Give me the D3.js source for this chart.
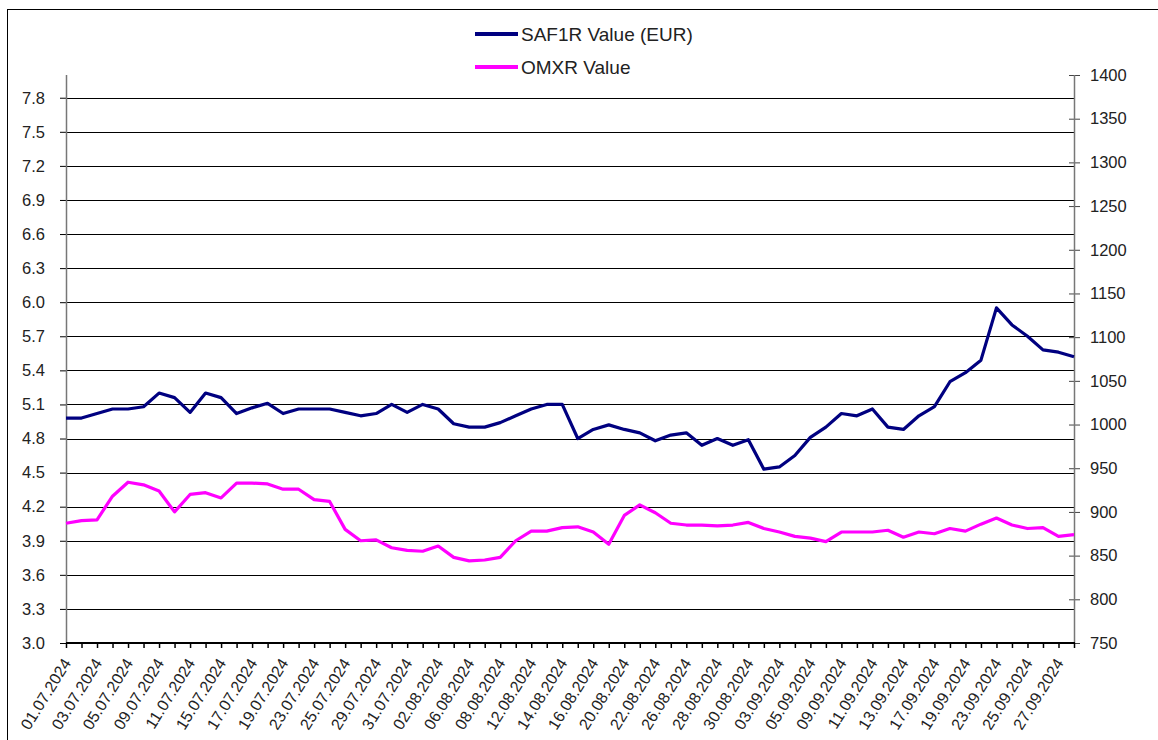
<!DOCTYPE html>
<html>
<head>
<meta charset="utf-8">
<script src="https://cdn.jsdelivr.net/npm/d3@7"></script>
<style>
  body { margin: 0; background: #fff; }
  text { font-family: "Liberation Sans", Arial, sans-serif; fill: #222; }
</style>
</head>
<body>
<div id="chart"></div>
<script>
// trading days, 01.07.2024 - 30.09.2024
const dates = [
  "01.07.2024","02.07.2024","03.07.2024","04.07.2024","05.07.2024","08.07.2024","09.07.2024","10.07.2024",
  "11.07.2024","12.07.2024","15.07.2024","16.07.2024","17.07.2024","18.07.2024","19.07.2024","22.07.2024",
  "23.07.2024","24.07.2024","25.07.2024","26.07.2024","29.07.2024","30.07.2024","31.07.2024","01.08.2024",
  "02.08.2024","05.08.2024","06.08.2024","07.08.2024","08.08.2024","09.08.2024","12.08.2024","13.08.2024",
  "14.08.2024","15.08.2024","16.08.2024","19.08.2024","20.08.2024","21.08.2024","22.08.2024","23.08.2024",
  "26.08.2024","27.08.2024","28.08.2024","29.08.2024","30.08.2024","02.09.2024","03.09.2024","04.09.2024",
  "05.09.2024","06.09.2024","09.09.2024","10.09.2024","11.09.2024","12.09.2024","13.09.2024","16.09.2024",
  "17.09.2024","18.09.2024","19.09.2024","20.09.2024","23.09.2024","24.09.2024","25.09.2024","26.09.2024",
  "27.09.2024","30.09.2024"
];

// SAF1R close, EUR (left axis)
const saf1r = [
  4.98, 4.98, 5.02, 5.06, 5.06, 5.08, 5.20, 5.16, 5.03, 5.20,
  5.16, 5.02, 5.07, 5.11, 5.02, 5.06, 5.06, 5.06, 5.03, 5.00,
  5.02, 5.10, 5.03, 5.10, 5.06, 4.93, 4.90, 4.90, 4.94, 5.00,
  5.06, 5.10, 5.10, 4.80, 4.88, 4.92, 4.88, 4.85, 4.78, 4.83,
  4.85, 4.74, 4.80, 4.74, 4.79, 4.53, 4.55, 4.65, 4.81, 4.90,
  5.02, 5.00, 5.06, 4.90, 4.88, 5.00, 5.08, 5.30, 5.38, 5.49,
  5.95, 5.80, 5.70, 5.58, 5.56, 5.52
];

// OMXR index (right axis)
const omxr = [
  887, 890, 891, 918, 934, 931, 924, 900, 920, 922,
  916, 933, 933, 932, 926, 926, 914, 912, 880, 867,
  868, 859, 856, 855, 861, 848, 844, 845, 848, 867,
  878, 878, 882, 883, 877, 863, 896, 908, 899, 887,
  885, 885, 884, 885, 888, 881, 877, 872, 870, 866,
  877, 877, 877, 879, 871, 877, 875, 881, 878, 886,
  893, 885, 881, 882, 872, 874
];

const leftTicks = d3.range(0, 17).map(i => 3.0 + i * 0.3);
const rightTicks = d3.range(750, 1401, 50);

const series = [
  { name: "SAF1R Value (EUR)", values: saf1r, color: "#000080", axis: "left" },
  { name: "OMXR Value", values: omxr, color: "#ff00ff", axis: "right" }
];

const W = 1158, H = 740;
const plot = { left: 66, right: 1074, top: 75, bottom: 643 };

const svg = d3.select("#chart").append("svg")
  .attr("width", W)
  .attr("height", H);

// outer frame (right and bottom edges fall outside the picture)
svg.append("rect")
  .attr("x", 7.5).attr("y", 9.5)
  .attr("width", 1160).attr("height", 745)
  .attr("fill", "none")
  .attr("stroke", "#000")
  .attr("stroke-width", 1);

const x = d3.scalePoint()
  .domain(dates)
  .range([plot.left, plot.right]);

const yL = d3.scaleLinear().domain([3, 8]).range([plot.bottom, plot.top]);
const yR = d3.scaleLinear().domain([750, 1400]).range([plot.bottom, plot.top]);

// gridlines
svg.append("g")
  .selectAll("line")
  .data(leftTicks.slice(1))
  .join("line")
  .attr("x1", plot.left).attr("x2", plot.right)
  .attr("y1", d => Math.round(yL(d)) + 0.5)
  .attr("y2", d => Math.round(yL(d)) + 0.5)
  .attr("stroke", "#000")
  .attr("stroke-width", 1);

// left axis
const leftAxis = svg.append("g")
  .attr("transform", `translate(${plot.left},0)`)
  .call(d3.axisLeft(yL).tickValues(leftTicks).tickFormat(d3.format(".1f")).tickSize(6).tickPadding(15));
leftAxis.select(".domain").remove();
leftAxis.selectAll(".tick line").attr("stroke", "#000");
leftAxis.selectAll("text").attr("font-size", 16.5).attr("fill", "#222");
svg.append("line")
  .attr("x1", plot.left + 0.5).attr("x2", plot.left + 0.5)
  .attr("y1", plot.top).attr("y2", plot.bottom)
  .attr("stroke", "#777").attr("stroke-width", 1.5);

// right axis
const rightAxis = svg.append("g")
  .attr("transform", `translate(${plot.right},0)`)
  .call(d3.axisRight(yR).tickValues(rightTicks).tickFormat(d3.format("d")).tickSize(6).tickPadding(10));
rightAxis.select(".domain").remove();
rightAxis.selectAll(".tick line").attr("x1", -5).attr("stroke", "#444");
rightAxis.selectAll("text").attr("font-size", 16.5).attr("fill", "#222");
svg.append("line")
  .attr("x1", plot.right + 0.5).attr("x2", plot.right + 0.5)
  .attr("y1", plot.top).attr("y2", plot.bottom)
  .attr("stroke", "#777").attr("stroke-width", 1.5);

// bottom axis
const bottomAxis = svg.append("g")
  .attr("transform", `translate(0,${plot.bottom})`)
  .call(d3.axisBottom(x).tickSize(5).tickFormat(""));
bottomAxis.select(".domain").remove();
bottomAxis.selectAll(".tick line").attr("stroke", "#000").attr("stroke-width", 1.5);
svg.append("line")
  .attr("x1", plot.left).attr("x2", plot.right + 1)
  .attr("y1", plot.bottom).attr("y2", plot.bottom)
  .attr("stroke", "#000").attr("stroke-width", 2);

// every second date is labelled
svg.append("g")
  .selectAll("text")
  .data(dates.filter((d, i) => i % 2 === 0))
  .join("text")
  .attr("transform", d => `translate(${x(d) + 1},${plot.bottom + 17}) rotate(-58)`)
  .attr("text-anchor", "end")
  .attr("dy", "0.35em")
  .attr("font-size", 16)
  .text(d => d);

// lines
const lineFor = s => d3.line()
  .x((v, i) => x(dates[i]))
  .y(v => (s.axis === "left" ? yL : yR)(v));

svg.append("g")
  .selectAll("path")
  .data(series.slice().reverse())
  .join("path")
  .attr("d", s => lineFor(s)(s.values))
  .attr("fill", "none")
  .attr("stroke", d => d.color)
  .attr("stroke-width", 3.2)
  .attr("stroke-linejoin", "round");

// legend
const legend = svg.append("g")
  .selectAll("g")
  .data(series)
  .join("g")
  .attr("transform", (d, i) => `translate(475,${34 + i * 33})`);

legend.append("line")
  .attr("x1", 0).attr("x2", 43)
  .attr("stroke", d => d.color)
  .attr("stroke-width", 4);

legend.append("text")
  .attr("x", 46)
  .attr("dy", "0.36em")
  .attr("font-size", 19)
  .text(d => d.name);
</script>
</body>
</html>
